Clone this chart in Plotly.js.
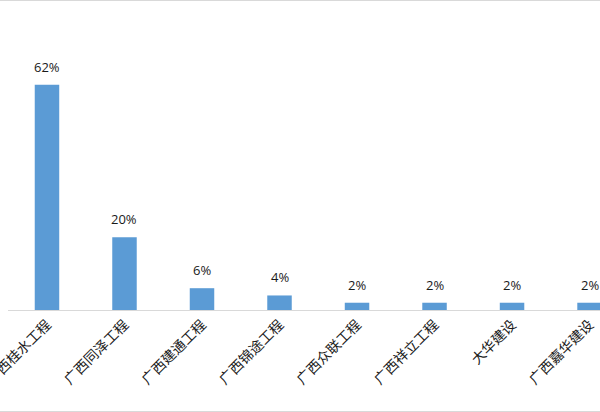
<!DOCTYPE html>
<html>
<head>
<meta charset="utf-8">
<script src="https://cdn.plot.ly/plotly-3.0.1.min.js"></script>
<style>
html,body{margin:0;padding:0;background:#fff;}
#chart{width:600px;height:410px;border-top:1px solid #d9d9d9;border-bottom:1px solid #d9d9d9;}
</style>
</head>
<body>
<div id="chart"></div>
<script>
const categories = ["广西桂水工程","广西同泽工程","广西建通工程","广西锦途工程","广西众联工程","广西祥立工程","大华建设","广西嘉华建设"];
const shares = [62, 20, 6, 4, 2, 2, 2, 2];
const labels = shares.map(v => v + "%");

const trace = {
  type: "bar",
  x: categories,
  y: shares,
  marker: {color: "#5b9bd5"},
  hoverinfo: "none"
};

const annotations = categories.map((c, i) => ({
  x: c, y: shares[i], xref: "x", yref: "y",
  text: labels[i], showarrow: false,
  yanchor: "middle", yshift: 18,
  font: {family: "Open Sans, Liberation Sans, sans-serif", size: 13, color: "#1a1a1a"}
}));

const layout = {
  width: 600, height: 410,
  margin: {l: 8, r: 0, t: 9, b: 101, pad: 0},
  paper_bgcolor: "#ffffff",
  plot_bgcolor: "#ffffff",
  showlegend: false,
  bargap: 0.684,
  xaxis: {
    type: "category",
    range: [-0.503, 7.135],
    showline: true, linecolor: "#d9d9d9", linewidth: 1,
    showgrid: false, zeroline: false,
    ticks: "",
    tickangle: -45,
    tickfont: {family: "Noto Sans CJK SC, sans-serif", size: 14, color: "#1a1a1a"}
  },
  yaxis: {
    range: [0, 82.55],
    visible: false,
    showgrid: false, zeroline: false
  },
  annotations: annotations
};

Plotly.newPlot("chart", [trace], layout, {staticPlot: true, displayModeBar: false});
</script>
</body>
</html>
